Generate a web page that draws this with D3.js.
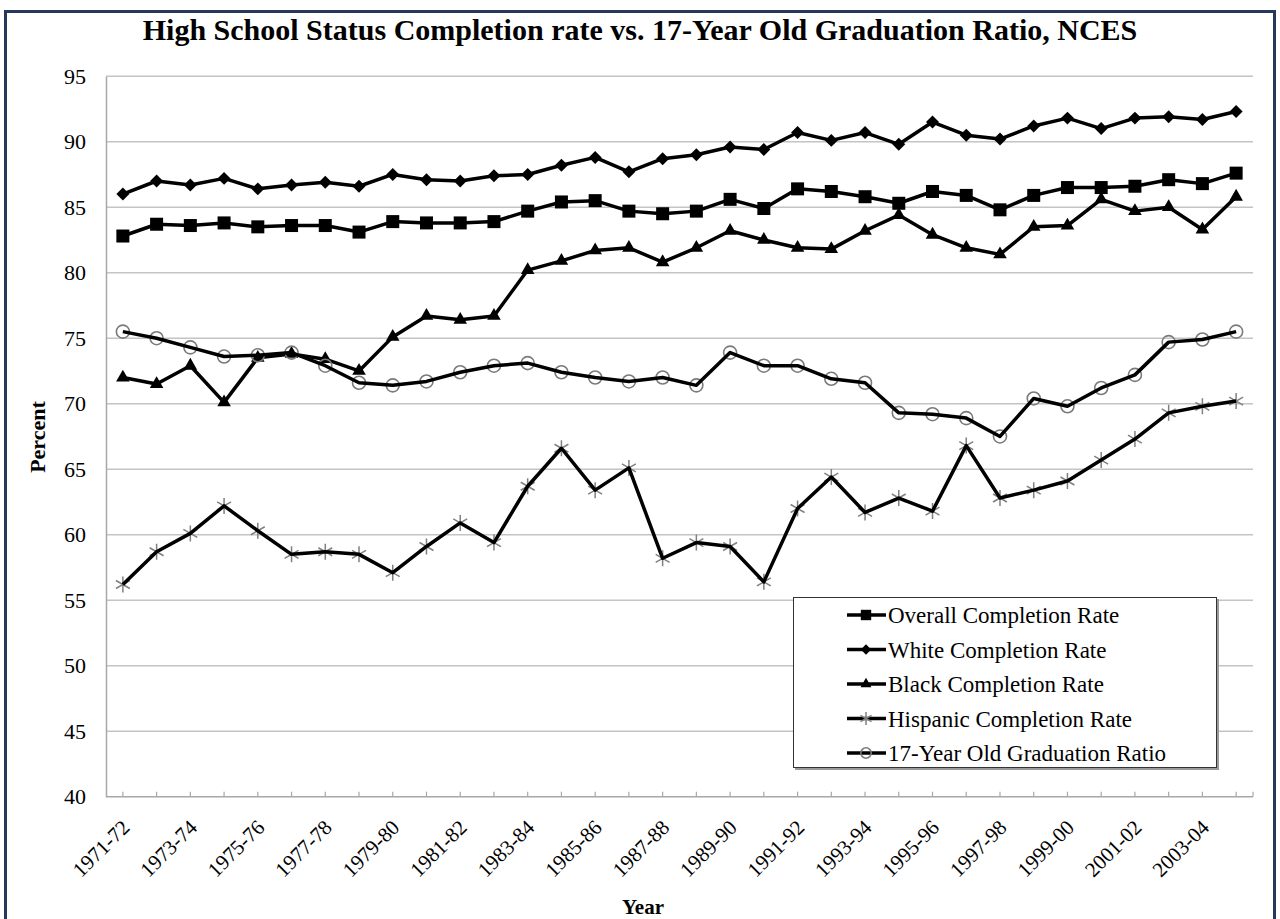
<!DOCTYPE html>
<html>
<head>
<meta charset="utf-8">
<script src="https://cdn.jsdelivr.net/npm/d3@7"></script>
<style>
  body { margin: 0; background: #fff; }
  text { font-family: "Liberation Serif", "Times New Roman", serif; fill: #000; }
</style>
</head>
<body>
<svg class="chart" width="1280" height="919"></svg>
<script>
const width = 1280;
const height = 919;

// categories (school years)
const years = ["1971-72","1972-73","1973-74","1974-75","1975-76","1976-77","1977-78","1978-79",
  "1979-80","1980-81","1981-82","1982-83","1983-84","1984-85","1985-86","1986-87","1987-88",
  "1988-89","1989-90","1990-91","1991-92","1992-93","1993-94","1994-95","1995-96","1996-97",
  "1997-98","1998-99","1999-00","2000-01","2001-02","2002-03","2003-04","2004-05"];

// series values (percent)
const overall = [82.8, 83.7, 83.6, 83.8, 83.5, 83.6, 83.6, 83.1, 83.9, 83.8, 83.8, 83.9,
  84.7, 85.4, 85.5, 84.7, 84.5, 84.7, 85.6, 84.9, 86.4, 86.2, 85.8,
  85.3, 86.2, 85.9, 84.8, 85.9, 86.5, 86.5, 86.6, 87.1, 86.8, 87.6];
const white = [86.0, 87.0, 86.7, 87.2, 86.4, 86.7, 86.9, 86.6, 87.5, 87.1, 87.0, 87.4,
  87.5, 88.2, 88.8, 87.7, 88.7, 89.0, 89.6, 89.4, 90.7, 90.1, 90.7,
  89.8, 91.5, 90.5, 90.2, 91.2, 91.8, 91.0, 91.8, 91.9, 91.7, 92.3];
const black = [72.0, 71.5, 72.9, 70.1, 73.5, 73.8, 73.4, 72.5, 75.1, 76.7, 76.4, 76.7,
  80.2, 80.9, 81.7, 81.9, 80.8, 81.9, 83.2, 82.5, 81.9, 81.8, 83.2,
  84.4, 82.9, 81.9, 81.4, 83.5, 83.6, 85.6, 84.7, 85.0, 83.3, 85.8];
const hispanic = [56.2, 58.7, 60.1, 62.2, 60.3, 58.5, 58.7, 58.5, 57.1, 59.1, 60.9, 59.4,
  63.7, 66.6, 63.4, 65.1, 58.2, 59.4, 59.1, 56.4, 62.0, 64.4, 61.7,
  62.8, 61.8, 66.8, 62.8, 63.4, 64.1, 65.7, 67.3, 69.3, 69.8, 70.2];
const gradRatio = [75.5, 75.0, 74.3, 73.6, 73.7, 73.9, 72.9, 71.6, 71.4, 71.7, 72.4, 72.9,
  73.1, 72.4, 72.0, 71.7, 72.0, 71.4, 73.9, 72.9, 72.9, 71.9, 71.6,
  69.3, 69.2, 68.9, 67.5, 70.4, 69.8, 71.2, 72.2, 74.7, 74.9, 75.5];

const yTicks = [40, 45, 50, 55, 60, 65, 70, 75, 80, 85, 90, 95];

const seriesNames = ["Overall Completion Rate", "White Completion Rate", "Black Completion Rate",
  "Hispanic Completion Rate", "17-Year Old Graduation Ratio"];
const seriesValues = [overall, white, black, hispanic, gradRatio];
const seriesMarkers = ["square", "diamond", "triangle", "star", "circle"];

const svg = d3.select(".chart");

// outer frame
svg.append("rect")
  .attr("x", 5.5).attr("y", 11.5)
  .attr("width", 1269).attr("height", 930)
  .attr("fill", "#fff")
  .attr("stroke", "#26395a")
  .attr("stroke-width", 3);

const plotLeft = 106, plotRight = 1253, plotTop = 76.2, plotBottom = 796.7;

const xScale = d3.scalePoint()
  .domain(years)
  .range([plotLeft, plotRight])
  .padding(0.5);

const yScale = d3.scaleLinear()
  .domain([40, 95])
  .range([plotBottom, plotTop]);

// horizontal gridlines
svg.append("g")
  .selectAll("line")
  .data(yTicks.filter(d => d > 40))
  .enter()
  .append("line")
  .attr("x1", plotLeft).attr("x2", plotRight)
  .attr("y1", d => yScale(d)).attr("y2", d => yScale(d))
  .attr("stroke", "#c4c4c4")
  .attr("stroke-width", 1.5);

// y axis
const yAxis = d3.axisLeft(yScale)
  .tickValues(yTicks)
  .tickSize(0)
  .tickPadding(20);

const yG = svg.append("g")
  .attr("transform", `translate(${plotLeft},0)`)
  .call(yAxis);
yG.select(".domain").attr("stroke", "#a8a8a8").attr("stroke-width", 1.5);
yG.selectAll("text")
  .style("font-family", "Liberation Serif, serif")
  .style("font-size", "22px");

// x axis line + ticks (inward)
svg.append("line")
  .attr("x1", plotLeft).attr("x2", plotRight)
  .attr("y1", plotBottom).attr("y2", plotBottom)
  .attr("stroke", "#a8a8a8")
  .attr("stroke-width", 1.5);

svg.append("g")
  .selectAll("line")
  .data(years.map(d => xScale(d)).concat([plotRight]))
  .enter()
  .append("line")
  .attr("x1", d => d).attr("x2", d => d)
  .attr("y1", plotBottom).attr("y2", plotBottom - 5)
  .attr("stroke", "#a8a8a8")
  .attr("stroke-width", 1.2);

// x labels, every other year, rotated
svg.append("g")
  .selectAll("text")
  .data(years.filter((d, i) => i % 2 === 0))
  .enter()
  .append("text")
  .attr("transform", d => `translate(${xScale(d) + 8},${plotBottom + 32}) rotate(-45)`)
  .style("text-anchor", "end")
  .style("font-size", "21px")
  .text(d => d);

// axis titles
svg.append("text")
  .attr("x", 643).attr("y", 914)
  .style("text-anchor", "middle")
  .style("font-size", "21px")
  .style("font-weight", "bold")
  .text("Year");

svg.append("text")
  .attr("transform", "rotate(-90)")
  .attr("x", -437).attr("y", 45)
  .style("text-anchor", "middle")
  .style("font-size", "22px")
  .style("font-weight", "bold")
  .text("Percent");

// title
svg.append("text")
  .attr("x", 640).attr("y", 40)
  .style("text-anchor", "middle")
  .style("font-size", "30px")
  .style("font-weight", "bold")
  .text("High School Status Completion rate vs. 17-Year Old Graduation Ratio, NCES");

// marker drawing
function drawMarker(g, type, k) {
  if (type === "square") {
    g.append("rect").attr("x", -6.5 * k).attr("y", -6.5 * k)
      .attr("width", 13 * k).attr("height", 13 * k).attr("fill", "#000");
  } else if (type === "diamond") {
    g.append("path").attr("d", d3.symbol(d3.symbolSquare, 84 * k * k)())
      .attr("transform", "rotate(45)").attr("fill", "#000");
  } else if (type === "triangle") {
    g.append("path").attr("d", d3.symbol(d3.symbolTriangle, 80 * k * k)()).attr("fill", "#000");
  } else if (type === "star") {
    const r = 8 * k;
    const p = `M${-r * 0.87},${-r * 0.5}L${r * 0.87},${r * 0.5}M${-r * 0.87},${r * 0.5}L${r * 0.87},${-r * 0.5}M0,${-r}L0,${r}`;
    g.append("path").attr("d", p).attr("stroke", "#808080").attr("stroke-width", 1.5).attr("fill", "none");
  } else if (type === "circle") {
    g.append("circle").attr("r", 6.5 * k).attr("fill", "none")
      .attr("stroke", "#7a7a7a").attr("stroke-width", 1.6);
  }
}

const line = d3.line()
  .x((d, i) => xScale(years[i]))
  .y(d => yScale(d));

seriesValues.forEach((vals, s) => {
  const type = seriesMarkers[s];
  // open markers sit under the line, filled ones on top
  const openMarker = (type === "star" || type === "circle");
  const lineG = svg.append("g");
  const markG = openMarker ? svg.insert("g", () => lineG.node()) : svg.append("g");

  lineG.append("path")
    .datum(vals)
    .attr("d", line)
    .attr("fill", "none")
    .attr("stroke", "#000")
    .attr("stroke-width", 3.5)
    .attr("stroke-linejoin", "round");

  markG.selectAll("g")
    .data(vals)
    .enter()
    .append("g")
    .attr("transform", (d, i) => `translate(${xScale(years[i])},${yScale(d)})`)
    .each(function () { drawMarker(d3.select(this), type, 1); });
});

// legend
const legend = svg.append("g").attr("class", "legend");
legend.append("rect")
  .attr("x", 795).attr("y", 599)
  .attr("width", 424).attr("height", 171)
  .attr("fill", "#9a9a9a");
legend.append("rect")
  .attr("x", 793.5).attr("y", 597.5)
  .attr("width", 423).attr("height", 170)
  .attr("fill", "#fff")
  .attr("stroke", "#333")
  .attr("stroke-width", 1);

const legendItems = legend.selectAll(".legend-item")
  .data(seriesNames)
  .enter()
  .append("g")
  .attr("class", "legend-item")
  .attr("transform", (d, i) => `translate(866, ${615 + i * 34.5})`);

legendItems.append("line")
  .attr("x1", -19).attr("x2", 20)
  .attr("stroke", "#000")
  .attr("stroke-width", 3.5);

legendItems.each(function (d, i) {
  drawMarker(d3.select(this), seriesMarkers[i], 0.8);
});

legendItems.append("text")
  .attr("x", 22)
  .attr("y", 8)
  .style("font-size", "23px")
  .text(d => d);
</script>
</body>
</html>
